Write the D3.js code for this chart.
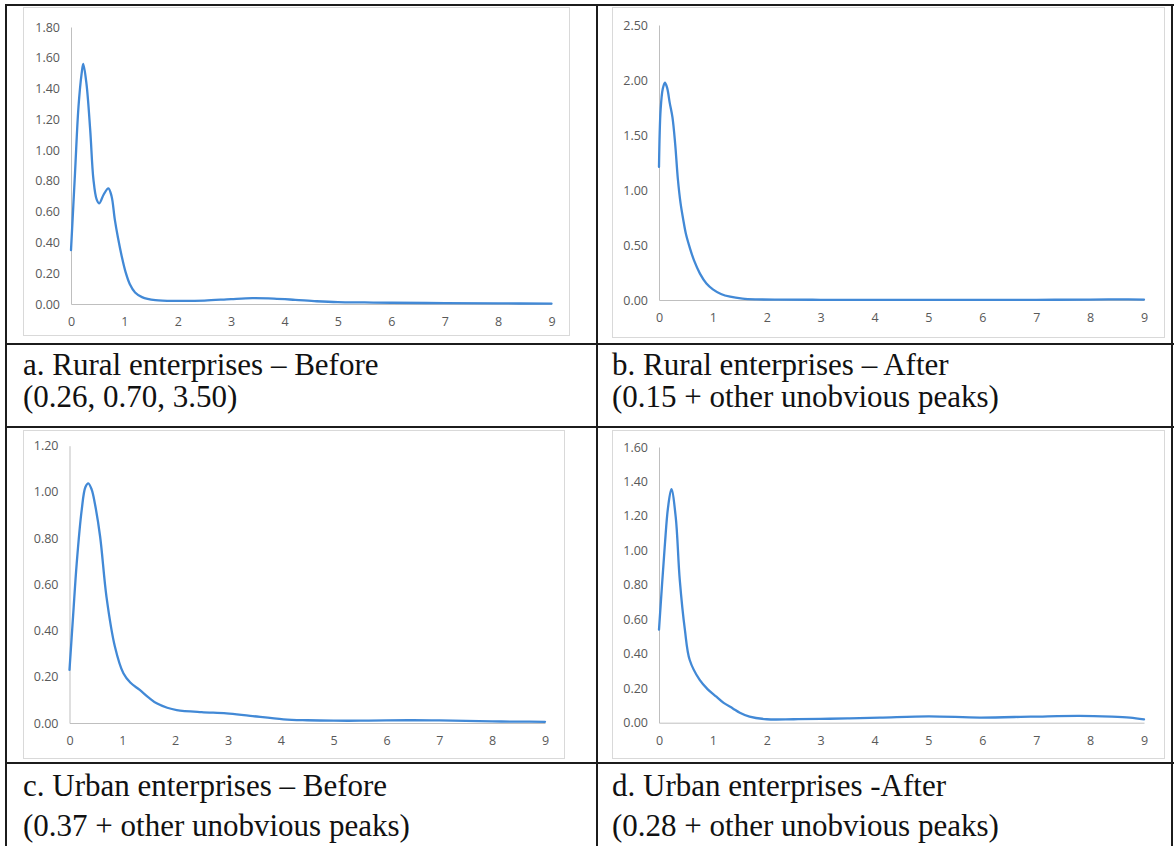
<!DOCTYPE html>
<html>
<head>
<meta charset="utf-8">
<script src="https://cdn.jsdelivr.net/npm/d3@7"></script>
<style>
  html, body { margin: 0; padding: 0; background: #fff; }
  svg { display: block; }
  .tick text { font-family: "Open Sans", "Liberation Sans", sans-serif; font-size: 12.5px; fill: #595959; }
  .caption { font-family: "Liberation Serif", "Times New Roman", serif; font-size: 31px; fill: #111; }
</style>
</head>
<body>
<svg id="fig" width="1174" height="846"></svg>
<script>
// Kernel density estimates of the four enterprise groups (x from 0 to 9)
const ruralBeforeX = [0, 0.075, 0.14, 0.2, 0.23, 0.29, 0.36, 0.42, 0.48, 0.53, 0.61, 0.7, 0.76, 0.82, 0.88, 0.95, 1.02, 1.1, 1.2, 1.33, 1.58, 2, 2.5, 3, 3.4, 3.8, 4.2, 4.6, 5, 5.5, 6, 7, 8, 9];
const ruralBeforeY = [0.35, 0.85, 1.28, 1.5, 1.56, 1.43, 1.13, 0.81, 0.68, 0.654, 0.71, 0.752, 0.70, 0.55, 0.43, 0.31, 0.21, 0.13, 0.075, 0.045, 0.025, 0.02, 0.022, 0.032, 0.038, 0.035, 0.027, 0.018, 0.012, 0.01, 0.008, 0.006, 0.004, 0.002];

const ruralAfterX = [0, 0.03, 0.07, 0.11, 0.15, 0.2, 0.25, 0.3, 0.35, 0.4, 0.45, 0.5, 0.575, 0.65, 0.76, 0.88, 1.0, 1.15, 1.32, 1.55, 1.81, 2.2, 3, 4, 5, 6, 7, 8, 8.5, 9];
const ruralAfterY = [1.21, 1.73, 1.92, 1.975, 1.93, 1.79, 1.66, 1.42, 1.1, 0.88, 0.73, 0.6, 0.47, 0.36, 0.24, 0.15, 0.097, 0.055, 0.03, 0.013, 0.006, 0.003, 0.002, 0.002, 0.002, 0.002, 0.002, 0.004, 0.006, 0.004];

const urbanBeforeX = [0, 0.07, 0.136, 0.23, 0.3, 0.356, 0.42, 0.48, 0.58, 0.7, 0.86, 1.02, 1.15, 1.33, 1.5, 1.65, 1.85, 2.03, 2.5, 2.97, 3.42, 4.05, 4.5, 5, 5.5, 6, 6.5, 7, 7.5, 8, 8.5, 9];
const urbanBeforeY = [0.23, 0.47, 0.69, 0.92, 1.02, 1.037, 1.01, 0.95, 0.806, 0.546, 0.33, 0.215, 0.175, 0.143, 0.11, 0.085, 0.066, 0.056, 0.047, 0.042, 0.031, 0.016, 0.012, 0.01, 0.01, 0.011, 0.012, 0.011, 0.009, 0.007, 0.006, 0.005];

const urbanAfterX = [0, 0.106, 0.168, 0.23, 0.31, 0.385, 0.48, 0.57, 0.755, 0.9, 1.065, 1.2, 1.37, 1.5, 1.68, 2.0, 2.5, 3, 3.5, 4.1, 5.0, 5.95, 6.9, 7.8, 8.4, 8.74, 9];
const urbanAfterY = [0.54, 1.02, 1.25, 1.355, 1.195, 0.83, 0.54, 0.364, 0.248, 0.195, 0.151, 0.115, 0.083, 0.058, 0.035, 0.02, 0.02, 0.022, 0.025, 0.029, 0.037, 0.03, 0.035, 0.04, 0.035, 0.029, 0.019];

// Axis ticks
const xTicks = [0, 1, 2, 3, 4, 5, 6, 7, 8, 9];
const ruralBeforeTicks = [0, 0.2, 0.4, 0.6, 0.8, 1.0, 1.2, 1.4, 1.6, 1.8];
const ruralAfterTicks = [0, 0.5, 1.0, 1.5, 2.0, 2.5];
const urbanBeforeTicks = [0, 0.2, 0.4, 0.6, 0.8, 1.0, 1.2];
const urbanAfterTicks = [0, 0.2, 0.4, 0.6, 0.8, 1.0, 1.2, 1.4, 1.6];

// Captions beneath each panel
const captionsA = ["a. Rural enterprises \u2013 Before", "(0.26, 0.70, 3.50)"];
const captionsB = ["b. Rural enterprises \u2013 After", "(0.15 + other unobvious peaks)"];
const captionsC = ["c. Urban enterprises \u2013 Before", "(0.37 + other unobvious peaks)"];
const captionsD = ["d. Urban enterprises -After", "(0.28 + other unobvious peaks)"];

const svg = d3.select("#fig");

// Panel geometry: outer chart frame plus plotting box
const panels = [
  { xs: ruralBeforeX, ys: ruralBeforeY, ticks: ruralBeforeTicks,
    frame: [23, 7, 569, 335], plot: { x0: 71, x1: 551.5, yTop: 27, yBot: 304 } },
  { xs: ruralAfterX, ys: ruralAfterY, ticks: ruralAfterTicks,
    frame: [612, 7, 1164, 337], plot: { x0: 659, x1: 1144, yTop: 25, yBot: 300 } },
  { xs: urbanBeforeX, ys: urbanBeforeY, ticks: urbanBeforeTicks,
    frame: [23, 430, 564, 758], plot: { x0: 69.5, x1: 545, yTop: 445.7, yBot: 723 } },
  { xs: urbanAfterX, ys: urbanAfterY, ticks: urbanAfterTicks,
    frame: [612, 430, 1164, 758], plot: { x0: 659, x1: 1144, yTop: 447, yBot: 722.7 } }
];

panels.forEach(p => {
  const [fx0, fy0, fx1, fy1] = p.frame;
  svg.append("rect")
    .attr("x", fx0 + 0.5).attr("y", fy0 + 0.5)
    .attr("width", fx1 - fx0).attr("height", fy1 - fy0)
    .attr("fill", "#fff").attr("stroke", "#d9d9d9").attr("stroke-width", 1);

  const x = d3.scaleLinear().domain([0, 9]).range([p.plot.x0, p.plot.x1]);
  const y = d3.scaleLinear().domain([0, d3.max(p.ticks)]).range([p.plot.yBot, p.plot.yTop]);

  const yAxis = svg.append("g")
    .attr("transform", `translate(${p.plot.x0},0)`)
    .call(d3.axisLeft(y).tickValues(p.ticks).tickFormat(d3.format(".2f")).tickSize(0).tickPadding(11));
  yAxis.select(".domain").attr("stroke", "#bfbfbf");

  const xAxis = svg.append("g")
    .attr("transform", `translate(0,${p.plot.yBot})`)
    .call(d3.axisBottom(x).tickValues(xTicks).tickFormat(d3.format("d")).tickSize(0).tickPadding(13));
  xAxis.select(".domain").attr("stroke", "#bfbfbf");

  const pts = p.xs.map((v, i) => [v, p.ys[i]]);
  svg.append("path")
    .datum(pts)
    .attr("fill", "none")
    .attr("stroke", "#4289d6")
    .attr("stroke-width", 2.3)
    .attr("stroke-linejoin", "round")
    .attr("stroke-linecap", "round")
    .attr("d", d3.line().x(d => x(d[0])).y(d => y(d[1])).curve(d3.curveCatmullRom.alpha(0.5)));
});

// Table rules
const rules = svg.append("g").attr("stroke", "#1c1c1c").attr("stroke-width", 2);
[5, 344, 427, 763].forEach(yy => rules.append("line").attr("x1", 5).attr("x2", 1174).attr("y1", yy).attr("y2", yy));
[6, 597, 1172].forEach(xx => rules.append("line").attr("x1", xx).attr("x2", xx).attr("y1", 4).attr("y2", 846));

// Captions
function caption(lines, x, y1, y2) {
  svg.append("text").attr("class", "caption").attr("x", x).attr("y", y1).text(lines[0]);
  svg.append("text").attr("class", "caption").attr("x", x).attr("y", y2).text(lines[1]);
}
caption(captionsA, 23, 375, 407);
caption(captionsB, 612, 375, 407);
caption(captionsC, 23, 796, 836);
caption(captionsD, 612, 796, 836);
</script>
</body>
</html>
